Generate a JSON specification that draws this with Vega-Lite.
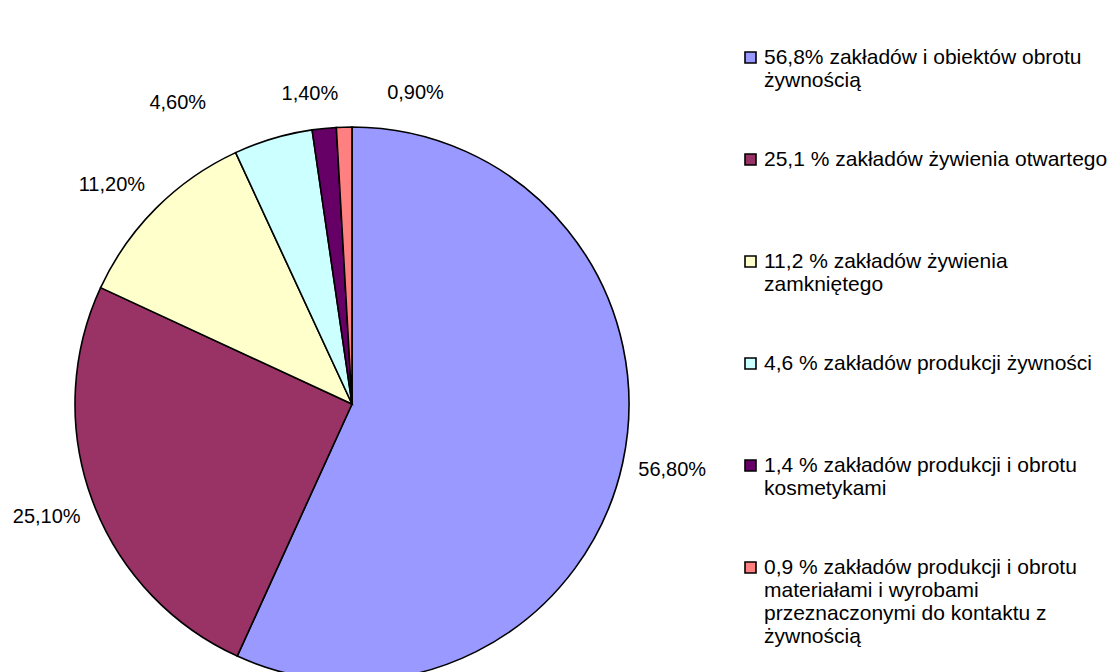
{
  "$schema": "https://vega.github.io/schema/vega-lite/v6.json",
  "width": 704,
  "height": 808,
  "padding": 0,
  "background": "white",
  "config": {
    "view": {"stroke": null},
    "font": "Liberation Sans",
    "legend": {"padding": 0}
  },
  "data": {
    "values": [
      {"idx": 1, "cat": "56,8% zakładów i obiektów obrotu żywnością", "value": 56.8, "label": "56,80%"},
      {"idx": 2, "cat": "25,1 % zakładów żywienia otwartego", "value": 25.1, "label": "25,10%"},
      {"idx": 3, "cat": "11,2 % zakładów żywienia zamkniętego", "value": 11.2, "label": "11,20%"},
      {"idx": 4, "cat": "4,6 % zakładów produkcji żywności", "value": 4.6, "label": "4,60%"},
      {"idx": 5, "cat": "1,4 % zakładów produkcji i obrotu kosmetykami", "value": 1.4, "label": "1,40%"},
      {"idx": 6, "cat": "0,9 % zakładów produkcji i obrotu materiałami i wyrobami przeznaczonymi do kontaktu z żywnością", "value": 0.9, "label": "0,90%"}
    ]
  },
  "encoding": {
    "theta": {"field": "value", "type": "quantitative", "stack": true},
    "order": {"field": "idx", "type": "quantitative"}
  },
  "layer": [
    {
      "mark": {"type": "arc", "outerRadius": 277, "stroke": "black", "strokeWidth": 1.6},
      "encoding": {
        "color": {
          "field": "cat",
          "type": "nominal",
          "scale": {
            "domain": [
              "56,8% zakładów i obiektów obrotu żywnością",
              "25,1 % zakładów żywienia otwartego",
              "11,2 % zakładów żywienia zamkniętego",
              "4,6 % zakładów produkcji żywności",
              "1,4 % zakładów produkcji i obrotu kosmetykami",
              "0,9 % zakładów produkcji i obrotu materiałami i wyrobami przeznaczonymi do kontaktu z żywnością"
            ],
            "range": ["#9999FF", "#993366", "#FFFFCC", "#CCFFFF", "#660066", "#FF8080"]
          },
          "legend": {
            "title": null,
            "orient": "none",
            "legendX": 740,
            "legendY": 47,
            "symbolType": "square",
            "symbolSize": 121,
            "symbolStrokeColor": "black",
            "symbolStrokeWidth": 1.6,
            "symbolOpacity": 1,
            "labelFont": "Liberation Sans",
            "labelFontSize": 21,
            "labelColor": "black",
            "labelLimit": 3000,
            "labelOffset": 3,
            "rowPadding": 11,
            "labelExpr": "datum.value == '56,8% zakładów i obiektów obrotu żywnością' ? ['56,8% zakładów  i obiektów  obrotu', 'żywnością', ' ', ' '] : datum.value == '25,1 % zakładów żywienia otwartego' ? ['25,1 % zakładów  żywienia otwartego', ' ', ' ', ' '] : datum.value == '11,2 % zakładów żywienia zamkniętego' ? ['11,2 % zakładów  żywienia', 'zamkniętego', ' ', ' '] : datum.value == '4,6 % zakładów produkcji żywności' ? ['4,6 % zakładów  produkcji żywności', ' ', ' ', ' '] : datum.value == '1,4 % zakładów produkcji i obrotu kosmetykami' ? ['1,4 % zakładów  produkcji i obrotu', 'kosmetykami', ' ', ' '] : ['0,9 % zakładów  produkcji i obrotu', 'materiałami i wyrobami', 'przeznaczonymi do kontaktu z', 'żywnością']"
          }
        }
      }
    },
    {
      "mark": {"type": "text", "radius": 300, "dx": 27, "dy": 2, "fontSize": 20, "font": "Liberation Sans", "color": "black"},
      "encoding": {"text": {"condition": {"test": "datum.idx === 1", "field": "label", "type": "nominal"}, "value": ""}}
    },
    {
      "mark": {"type": "text", "radius": 300, "dx": -24, "dy": 9, "fontSize": 20, "font": "Liberation Sans", "color": "black"},
      "encoding": {"text": {"condition": {"test": "datum.idx === 2", "field": "label", "type": "nominal"}, "value": ""}}
    },
    {
      "mark": {"type": "text", "radius": 300, "dx": -28, "dy": -7, "fontSize": 20, "font": "Liberation Sans", "color": "black"},
      "encoding": {"text": {"condition": {"test": "datum.idx === 3", "field": "label", "type": "nominal"}, "value": ""}}
    },
    {
      "mark": {"type": "text", "radius": 250, "dx": -103, "dy": -61, "fontSize": 20, "font": "Liberation Sans", "color": "black"},
      "encoding": {"text": {"condition": {"test": "datum.idx === 4", "field": "label", "type": "nominal"}, "value": ""}}
    },
    {
      "mark": {"type": "text", "radius": 300, "dx": -12, "dy": -12, "fontSize": 20, "font": "Liberation Sans", "color": "black"},
      "encoding": {"text": {"condition": {"test": "datum.idx === 5", "field": "label", "type": "nominal"}, "value": ""}}
    },
    {
      "mark": {"type": "text", "radius": 300, "dx": 72, "dy": -11, "fontSize": 20, "font": "Liberation Sans", "color": "black"},
      "encoding": {"text": {"condition": {"test": "datum.idx === 6", "field": "label", "type": "nominal"}, "value": ""}}
    }
  ]
}
